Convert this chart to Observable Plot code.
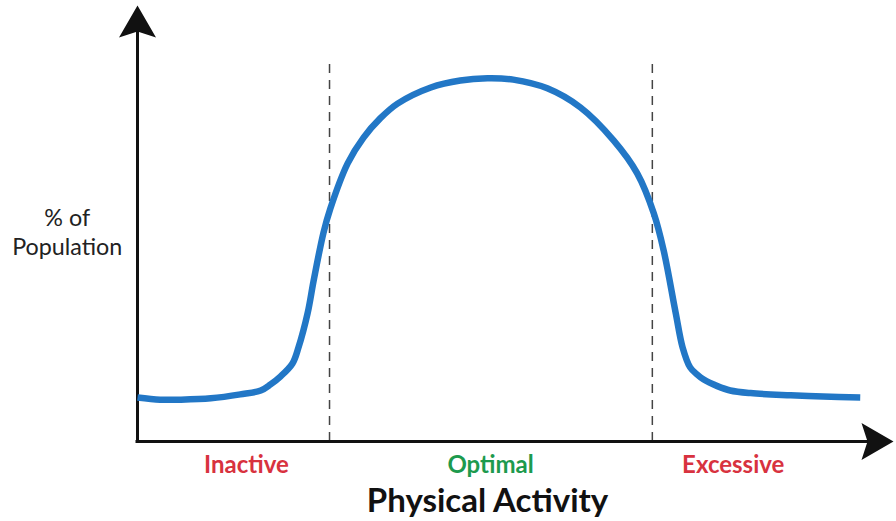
<!DOCTYPE html>
<html>
<head>
<meta charset="utf-8">
<script src="https://cdn.jsdelivr.net/npm/d3@7"></script>
<script src="https://cdn.jsdelivr.net/npm/@observablehq/plot@0.6"></script>
<style>
  html, body { margin: 0; padding: 0; background: #fff; }
  #chart svg { display: block; }
</style>
</head>
<body>
<div id="chart"></div>
<script>
// Curve: physical activity (x, arbitrary 0-100) vs % of population (y, arbitrary 0-100)
const activity = [0, 3.0, 5.7, 9.7, 13.6, 16.3, 17.6, 18.9, 20.5, 21.3, 22.5, 23.3, 24.6, 25.5, 27.8, 29.9, 32.1, 34.4, 38.8, 42.7, 46.3, 49.7, 54.2, 58.6, 63.0, 66.1, 68.3, 69.6, 71.2, 72.1, 73.1, 74.0, 74.9, 76.7, 78.4, 81.1, 86.4, 90.7, 95.6];
const population = [10.1, 9.6, 9.6, 9.9, 10.8, 11.7, 13.1, 14.9, 17.9, 21.6, 29.4, 36.9, 47.9, 53.4, 63.8, 69.7, 74.1, 77.5, 81.2, 82.8, 83.3, 83.0, 81.0, 76.6, 69.0, 61.5, 52.3, 43.8, 29.4, 21.6, 17.0, 15.4, 14.2, 12.7, 11.7, 11.1, 10.6, 10.3, 10.1];

// Zone boundaries (dashed lines) and their top
const boundaries = [25.4, 68.1];
const boundaryTop = 87.4;

// Zone labels
const zoneNames = ["Inactive", "Optimal", "Excessive"];
const zoneCenters = [14.4, 46.7, 78.8];
const zoneColors = ["#d8323f", "#1d9a4e", "#d8323f"];

// Axis extents (arrow tips)
const xAxisEnd = 100;
const yAxisEnd = 100;

// Titles
const xTitle = "Physical Activity";
const yTitleLines = ["% of", "Population"];

const curve = activity.map((x, i) => ({x, y: population[i]}));
const zones = zoneNames.map((name, i) => ({name, x: zoneCenters[i], color: zoneColors[i]}));

const arrowHead = {
  draw(ctx) {
    const L = 32, w = 37, n = 26;
    ctx.moveTo(0, 0);
    ctx.lineTo(w / 2, L);
    ctx.lineTo(0, n);
    ctx.lineTo(-w / 2, L);
    ctx.closePath();
  }
};

const font = "Lato, 'Open Sans', sans-serif";

const chart = Plot.plot({
  width: 896,
  height: 521,
  marginLeft: 137,
  marginRight: 3,
  marginTop: 5,
  marginBottom: 80,
  x: {domain: [0, 100], axis: null},
  y: {domain: [0, 100], axis: null},
  style: {background: "#fff", fontFamily: font},
  marks: [
    // dashed zone boundaries
    Plot.ruleX(boundaries, {y1: 0, y2: boundaryTop, stroke: "#444", strokeWidth: 1.5, strokeDasharray: "9,7"}),
    // axes
    Plot.ruleY([0], {x1: 0, x2: xAxisEnd - 3, stroke: "#111", strokeWidth: 3, strokeLinecap: "square"}),
    Plot.ruleX([0], {y1: 0, y2: yAxisEnd - 3, stroke: "#111", strokeWidth: 3, strokeLinecap: "square"}),
    Plot.dot([{x: 0, y: yAxisEnd}], {x: "x", y: "y", symbol: arrowHead, fill: "#111", stroke: "none", r: 10}),
    Plot.dot([{x: xAxisEnd, y: 0}], {x: "x", y: "y", symbol: arrowHead, rotate: 90, fill: "#111", stroke: "none", r: 10}),
    // curve
    Plot.line(curve, {x: "x", y: "y", curve: "catmull-rom", stroke: "#2277c6", strokeWidth: 6.5, strokeLinecap: "butt"}),
    // zone labels
    Plot.text(zones, {x: "x", y: -5.5, text: "name", fill: "color", fontSize: 24, fontWeight: "bold", fontFamily: font}),
    // x title
    Plot.text([xTitle], {x: 46.3, y: -13.8, text: d => d, fill: "#111", fontSize: 33, fontWeight: "bold", fontFamily: font}),
    // y title
    Plot.text([yTitleLines.join("\n")], {x: -9.3, y: 48.2, text: d => d, fill: "#222", fontSize: 23.3, lineHeight: 1.25, fontFamily: font})
  ]
});

document.getElementById("chart").appendChild(chart);
</script>
</body>
</html>
